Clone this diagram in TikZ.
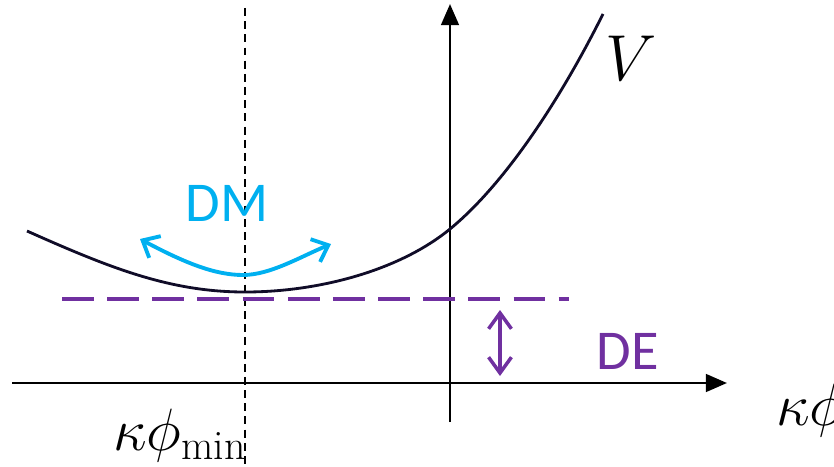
\RequirePackage{fix-cm}
\documentclass[tikz,border=0pt]{standalone}
\usepackage{fontspec}
\setsansfont{Carlito}
\usetikzlibrary{arrows.meta}
\definecolor{dmcyan}{RGB}{0,176,240}
\definecolor{depurple}{RGB}{112,48,160}
\definecolor{curvenavy}{RGB}{16,12,40}
\tikzset{
  axis/.style={line width=1.6pt, -{Triangle[length=12pt,width=10pt]}},
  potential/.style={line width=1.6pt, curvenavy},
  flow/.style={line width=2.2pt, dmcyan, {Straight Barb[length=8pt,width=14pt]}-{Straight Barb[length=8pt,width=14pt]}},
  gap/.style={line width=2pt, depurple, {Straight Barb[length=9pt,width=13pt]}-{Straight Barb[length=9pt,width=13pt]}},
  label/.style={font=\sffamily\fontsize{32}{36}\selectfont}
}
\begin{document}
\begin{tikzpicture}[x=0.02cm,y=-0.02cm]
\useasboundingbox (0,0) rectangle (834,466);
\clip (0,0) rectangle (834,466);

% axes
\coordinate (xstart) at (12,383);
\coordinate (xend) at (727,383);
\coordinate (ystart) at (450,422);
\coordinate (yend) at (450,4);
\draw[axis] (xstart) -- (xend);
\draw[axis] (ystart) -- (yend);

% minimum marker
\coordinate (mintop) at (245,8);
\coordinate (minbot) at (245,466);
\draw[line width=0.7pt, dash pattern=on 4.5pt off 3pt] (mintop) -- (minbot);

% potential
\coordinate (vstart) at (27,231);
\coordinate (vmin) at (245,292);
\coordinate (vcross) at (450,229);
\coordinate (vend) at (603,14);
\draw[potential] (vstart) .. controls (110,268) and (170,292) .. (vmin)
  .. controls (320,292) and (400,270) .. (vcross)
  .. controls (500,188) and (555,110) .. (vend);
\node[font=\fontsize{37}{42}\selectfont] (vlabel) at (631,58) {$V$};

% dark energy level
\coordinate (deleft) at (62,299);
\coordinate (deright) at (569,299);
\draw[line width=2.4pt, depurple, dash pattern=on 18.1pt off 7.6pt] (deleft) -- (deright);
\coordinate (gaptop) at (500,310);
\coordinate (gapbot) at (500,376);
\draw[gap] (gaptop) -- (gapbot);
\node[label, text=depurple] (delabel) at (628,351) {DE};

% dark matter oscillation
\coordinate (dmleft) at (140,239);
\coordinate (dmmid) at (243,275);
\coordinate (dmright) at (331,244);
\draw[flow] (dmleft) .. controls (185,263) and (215,275) .. (dmmid) .. controls (270,275) and (300,257) .. (dmright);
\node[label, text=dmcyan] (dmlabel) at (227,203) {DM};

% axis labels
\node[font=\fontsize{34}{40}\selectfont] (minlabel) at (180,436) {$\kappa\phi_{\min}$};
\node[font=\fontsize{34}{40}\selectfont, anchor=west] (xlabel) at (770,411) {$\kappa\phi$};
\end{tikzpicture}
\end{document}
